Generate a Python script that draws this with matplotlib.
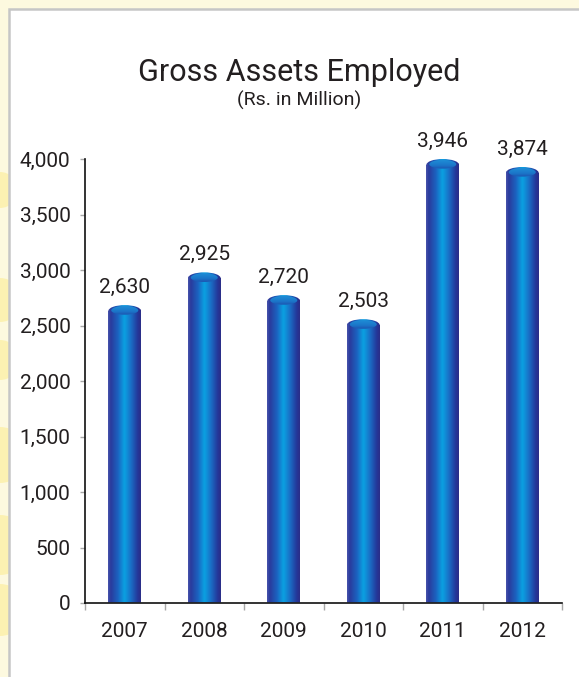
import matplotlib
matplotlib.use("Agg")
import matplotlib.pyplot as plt
import numpy as np
from matplotlib.colors import LinearSegmentedColormap
from matplotlib.patches import Ellipse, Rectangle
from matplotlib.ticker import FuncFormatter

YEARS = ["2007", "2008", "2009", "2010", "2011", "2012"]
GROSS_ASSETS = [2630, 2925, 2720, 2503, 3946, 3874]
Y_TICKS = [0, 500, 1000, 1500, 2000, 2500, 3000, 3500, 4000]

TITLE = "Gross Assets Employed"
SUBTITLE = "(Rs. in Million)"

W, H = 579, 677
BAR_WIDTH = 0.415
CAP_HEIGHT = 108  # in data units, the elliptical top of each cylinder

plt.rcParams["font.family"] = ["Liberation Sans Narrow", "Roboto", "Liberation Sans", "DejaVu Sans"]
TEXT = "#231f20"

body_cmap = LinearSegmentedColormap.from_list(
    "tube",
    [(0.0, "#4a55ad"), (0.08, "#2a3a9c"), (0.3, "#1c62c0"), (0.5, "#0aa2e2"),
     (0.7, "#1a6ec6"), (0.9, "#24389a"), (1.0, "#2c2c86")],
)
cap_cmap = LinearSegmentedColormap.from_list(
    "cap", [(0.0, "#1f3f9f"), (0.45, "#1b74c8"), (1.0, "#1f92d8")]
)

fig = plt.figure(figsize=(W / 100, H / 100), dpi=100)
fig.patch.set_facecolor("#fdf9df")

# yellow blobs along the left edge, mostly hidden by the white panel
for cy, r in [(300, 22), (360, 20), (455, 28), (545, 30), (610, 26), (190, 18)]:
    fig.add_artist(Ellipse((0, 1 - cy / H), 2 * r / W, 2 * r / H, transform=fig.transFigure,
                           facecolor="#fcec8e", edgecolor="none", alpha=0.55, zorder=-3))

panel = Rectangle((8.5 / W, -0.05), 1.2, (H - 8.5) / H + 0.05, transform=fig.transFigure,
                  facecolor="white", edgecolor="#c6c6c6", linewidth=1.8, zorder=-2)
fig.add_artist(panel)

ax = fig.add_axes([85 / W, 1 - 603 / H, (562 - 85) / W, (603 - 159) / H])
ax.set_facecolor("none")

x = np.arange(len(YEARS))
bars = ax.bar(x, GROSS_ASSETS, width=BAR_WIDTH, color="none", edgecolor="none")

grad = np.linspace(0, 1, 256).reshape(1, -1)
vgrad = np.linspace(0, 1, 64).reshape(-1, 1)
for bar, value in zip(bars, GROSS_ASSETS):
    x0 = bar.get_x()
    x1 = x0 + bar.get_width()
    cx = x0 + bar.get_width() / 2
    body = ax.imshow(grad, cmap=body_cmap, extent=[x0, x1, 0, value], aspect="auto",
                     interpolation="bicubic", zorder=2)
    body.set_clip_path(bar)
    # thin light rim at the base
    ax.plot([x0, x1], [0, 0], color="#8fa6dc", linewidth=1.2, zorder=2.5,
            solid_capstyle="butt")

    # elliptical top: tube-coloured rim with a recessed inner face
    cap = Ellipse((cx, value), bar.get_width(), CAP_HEIGHT, facecolor="none",
                  edgecolor="none", zorder=3, clip_on=False)
    ax.add_patch(cap)
    cap_img = ax.imshow(grad, cmap=body_cmap, extent=[x0, x1, value - CAP_HEIGHT / 2,
                        value + CAP_HEIGHT / 2], aspect="auto", interpolation="bicubic", zorder=3)
    cap_img.set_clip_path(cap)

    inner = Ellipse((cx, value + CAP_HEIGHT * 0.06), bar.get_width() * 0.82, CAP_HEIGHT * 0.72,
                    facecolor="none", edgecolor="none", zorder=4, clip_on=False)
    ax.add_patch(inner)
    inner_img = ax.imshow(vgrad, cmap=cap_cmap, extent=[x0, x1, value - CAP_HEIGHT / 2,
                          value + CAP_HEIGHT / 2], aspect="auto", interpolation="bicubic",
                          zorder=4, origin="lower")
    inner_img.set_clip_path(inner)

    ax.annotate(f"{value:,}", (cx, value), xytext=(0, 13), textcoords="offset points",
                ha="center", va="baseline", fontsize=15, color=TEXT, annotation_clip=False)

ax.set_xlim(-0.5, len(YEARS) - 0.5)
ax.set_ylim(0, 4000)

ax.set_xticks(x, labels=YEARS)
ax.set_xticks(np.arange(-0.5, len(YEARS), 1), minor=True)
ax.tick_params(axis="x", which="major", length=0, pad=14, labelsize=15, labelcolor=TEXT)
ax.tick_params(axis="x", which="minor", length=5, color="#a8a8a8", width=1)

ax.set_yticks(Y_TICKS)
ax.yaxis.set_major_formatter(FuncFormatter(lambda v, _: f"{int(v):,}"))
ax.tick_params(axis="y", length=3.5, color="#a8a8a8", width=1, pad=7, labelsize=15,
               labelcolor=TEXT)

for side in ("top", "right"):
    ax.spines[side].set_visible(False)
for side in ("left", "bottom"):
    ax.spines[side].set_color("#111111")
    ax.spines[side].set_linewidth(1.2)

fig.text(299 / W, 1 - 81 / H, TITLE, ha="center", va="baseline", fontsize=22, color=TEXT)
fig.text(299 / W, 1 - 106 / H, SUBTITLE, ha="center", va="baseline", fontsize=14, color=TEXT)

fig.savefig("out.png", dpi=100, facecolor=fig.get_facecolor())
